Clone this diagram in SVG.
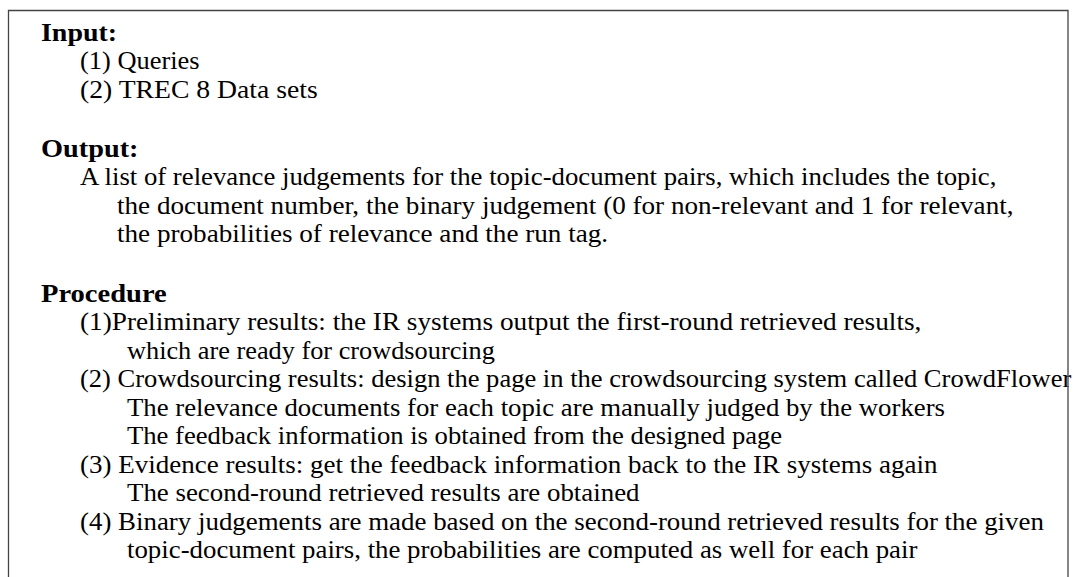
<svg xmlns="http://www.w3.org/2000/svg" width="1073" height="577" viewBox="0 0 1073 577">
<style>
text{font-family:"Liberation Serif","Times New Roman",serif;font-size:24.4px;fill:#000}
.h{font-weight:bold}
.frame{fill:none;stroke:#444;stroke-width:1.3}
</style>
<rect width="1073" height="577" fill="#fff"/>
<g id="input">
<text class="h" x="41" y="40.7" textLength="76.1" lengthAdjust="spacingAndGlyphs">Input:</text>
<text x="80" y="69.4" textLength="119.5" lengthAdjust="spacingAndGlyphs">(1) Queries</text>
<text x="80" y="98" textLength="237.8" lengthAdjust="spacingAndGlyphs">(2) TREC 8 Data sets</text>
</g>
<g id="output">
<text class="h" x="41" y="156.7" textLength="97.5" lengthAdjust="spacingAndGlyphs">Output:</text>
<text x="80" y="185" textLength="916.4" lengthAdjust="spacingAndGlyphs">A list of relevance judgements for the topic-document pairs, which includes the topic,</text>
<text x="117" y="213.5" textLength="896.5" lengthAdjust="spacingAndGlyphs">the document number, the binary judgement (0 for non-relevant and 1 for relevant,</text>
<text x="117" y="242" textLength="491.1" lengthAdjust="spacingAndGlyphs">the probabilities of relevance and the run tag.</text>
</g>
<g id="procedure">
<text class="h" x="41" y="301.5" textLength="125.7" lengthAdjust="spacingAndGlyphs">Procedure</text>
<text x="80" y="330" textLength="841.4" lengthAdjust="spacingAndGlyphs">(1)Preliminary results: the IR systems output the first-round retrieved results,</text>
<text x="127" y="358.5" textLength="367.9" lengthAdjust="spacingAndGlyphs">which are ready for crowdsourcing</text>
<text x="80" y="387" textLength="991.3" lengthAdjust="spacingAndGlyphs">(2) Crowdsourcing results: design the page in the crowdsourcing system called CrowdFlower</text>
<text x="127" y="415.5" textLength="818" lengthAdjust="spacingAndGlyphs">The relevance documents for each topic are manually judged by the workers</text>
<text x="127" y="444" textLength="655.2" lengthAdjust="spacingAndGlyphs">The feedback information is obtained from the designed page</text>
<text x="80" y="472.5" textLength="857.5" lengthAdjust="spacingAndGlyphs">(3) Evidence results: get the feedback information back to the IR systems again</text>
<text x="127" y="501" textLength="512.5" lengthAdjust="spacingAndGlyphs">The second-round retrieved results are obtained</text>
<text x="80" y="529.5" textLength="963.9" lengthAdjust="spacingAndGlyphs">(4) Binary judgements are made based on the second-round retrieved results for the given</text>
<text x="127" y="558" textLength="790.4" lengthAdjust="spacingAndGlyphs">topic-document pairs, the probabilities are computed as well for each pair</text>
</g>
<path class="frame" d="M8.5,577 V10.5 H1068 V577"/>
</svg>
